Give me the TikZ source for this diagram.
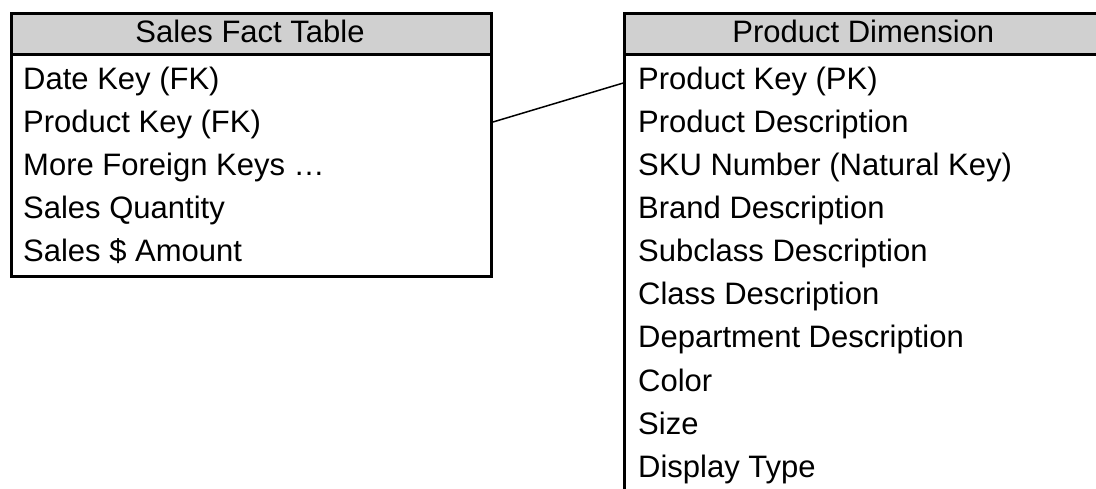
\documentclass[tikz,border=0pt]{standalone}
\usepackage{fontspec}
\setmainfont{Liberation Sans}
\begin{document}
\begin{tikzpicture}[x=1pt,y=1pt,
  tablebox/.style={draw, line width=3pt, rectangle, inner sep=0pt, anchor=north west},
  headbox/.style={tablebox, fill=headgray},
  headtext/.style={anchor=base, inner sep=0pt, font=\fontsize{31}{31}\selectfont},
  rowtext/.style={anchor=base west, inner sep=0pt, font=\fontsize{31}{31}\selectfont},
  link/.style={draw, line width=1.5pt}]
\definecolor{headgray}{RGB}{208,208,208}
\useasboundingbox (0,0) rectangle (1096,-489);
\clip (0,0) rectangle (1096,-489);

% Sales fact table
\node[tablebox, minimum width=480pt, minimum height=263.8pt] (sales) at (10,-11.7) {};
\node[headbox, minimum width=480pt, minimum height=41.8pt] (salesHead) at (10,-11.7) {};
\node[headtext] (salesTitle) at (250,-43) {Sales Fact Table};
\node[rowtext] (s1) at (23,-90)  {Date Key (FK)};
\node[rowtext] (s2) at (23,-133) {Product Key (FK)};
\node[rowtext] (s3) at (23,-176) {More Foreign Keys \dots};
\node[rowtext] (s4) at (23,-219) {Sales Quantity};
\node[rowtext] (s5) at (23,-262) {Sales \$ Amount};

% Product dimension table (runs past the page edges)
\node[tablebox, minimum width=480pt, minimum height=520pt] (prod) at (623.3,-11.7) {};
\node[headbox, minimum width=480pt, minimum height=41.3pt] (prodHead) at (623.3,-11.7) {};
\node[headtext] (prodTitle) at (863.3,-43) {Product Dimension};
\node[rowtext] (p1)  at (638,-90)  {Product Key (PK)};
\node[rowtext] (p2)  at (638,-133) {Product Description};
\node[rowtext] (p3)  at (638,-176) {SKU Number (Natural Key)};
\node[rowtext] (p4)  at (638,-219) {Brand Description};
\node[rowtext] (p5)  at (638,-262) {Subclass Description};
\node[rowtext] (p6)  at (638,-305) {Class Description};
\node[rowtext] (p7)  at (638,-348) {Department Description};
\node[rowtext] (p8)  at (638,-391) {Color};
\node[rowtext] (p9)  at (638,-434) {Size};
\node[rowtext] (p10) at (638,-477) {Display Type};

% Foreign key link
\coordinate (fk) at (sales.east |- 0,-122);
\coordinate (pk) at (prod.west |- 0,-83);
\draw[link] (fk) -- (pk);
\end{tikzpicture}
\end{document}
